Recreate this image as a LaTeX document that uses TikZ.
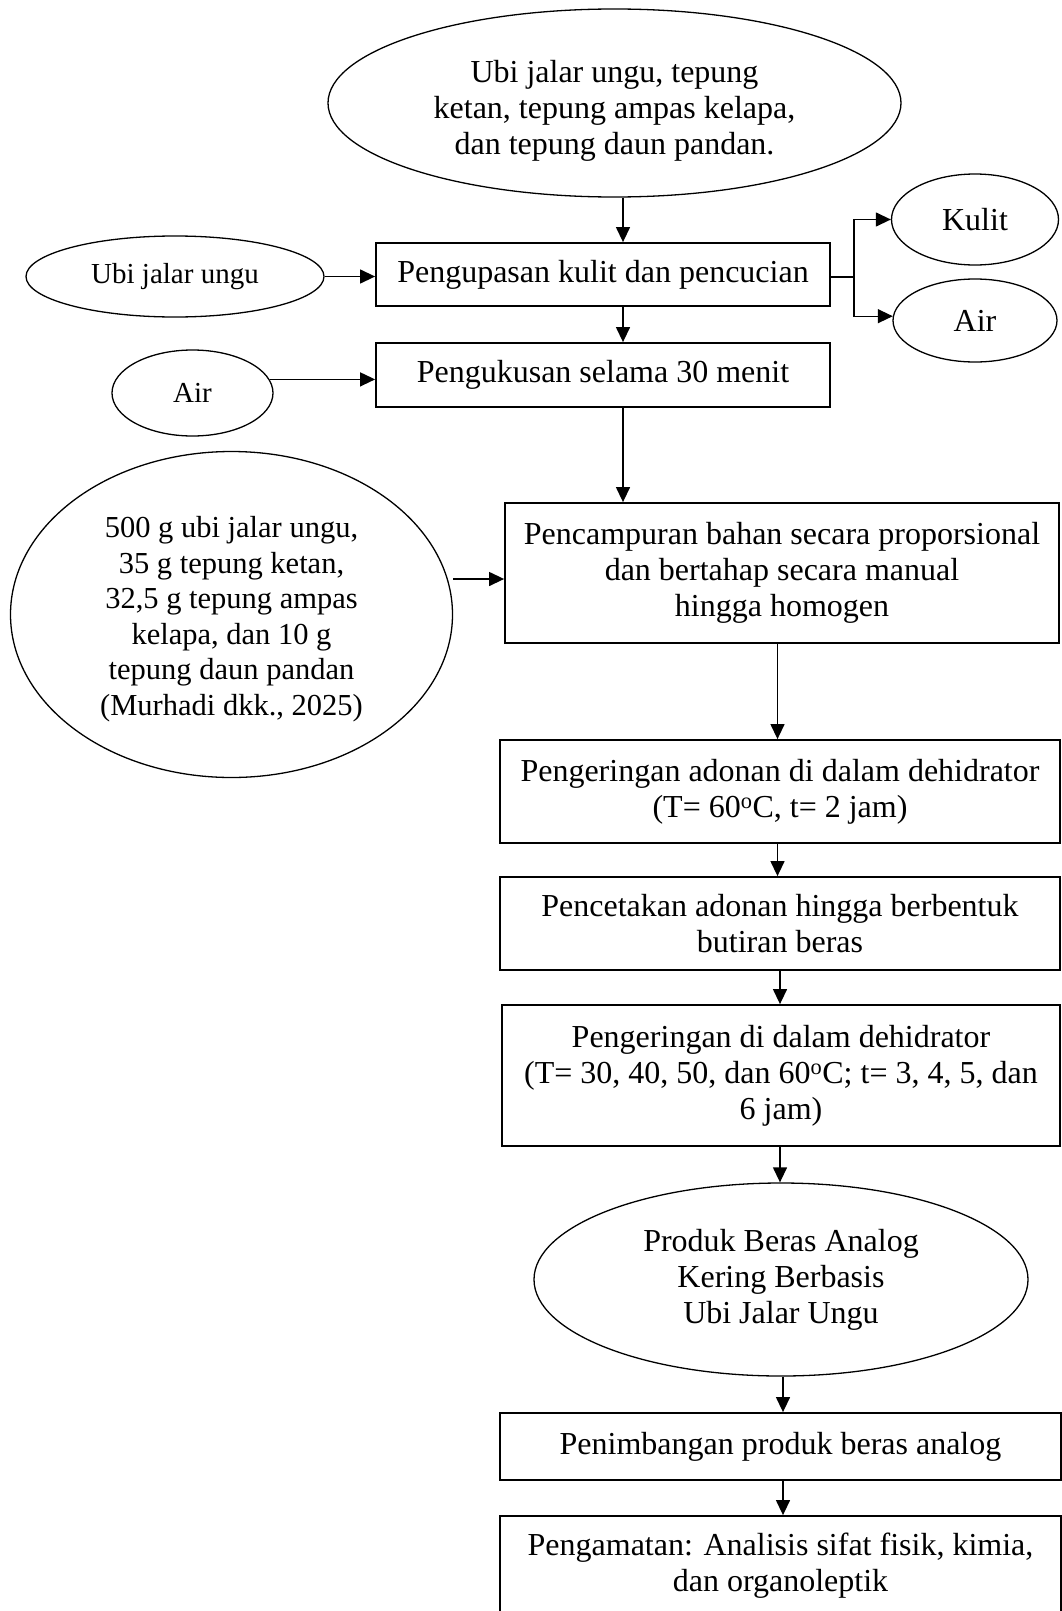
\documentclass[tikz,border=0pt]{standalone}
\usepackage{fontspec}
\setmainfont{Liberation Serif}
\usetikzlibrary{arrows.meta,shapes.geometric}
\newcommand{\bigtxt}{\fontsize{32}{36}\selectfont}
\newcommand{\midtxt}{\fontsize{30.5}{35.5}\selectfont}
\newcommand{\smltxt}{\fontsize{29}{33}\selectfont}
\begin{document}
\begin{tikzpicture}[x=1pt,y=-1pt,
  box/.style={draw,line width=1.8pt,rectangle,inner sep=0pt,align=center,font=\bigtxt},
  oval/.style={draw,line width=1.3pt,ellipse,inner sep=0pt,align=center,font=\bigtxt},
  txt/.style={inner sep=0pt,align=center,font=\bigtxt},
  arr/.style={line width=1.3pt,-{Triangle[length=15pt,width=14pt]}},
  ln/.style={line width=1.3pt}]
\useasboundingbox (0,0) rectangle (1062,1611);

\node[oval,minimum width=573pt,minimum height=188pt] (ing) at (614.5,103) {};
\node[txt] (ingtxt) at (614.5,111) {Ubi jalar ungu, tepung\\ketan, tepung ampas kelapa,\\dan tepung daun pandan.};
\node[box,minimum width=454pt,minimum height=63pt] (kupas) at (603,274.5) {Pengupasan kulit dan pencucian};
\node[oval,font=\smltxt,minimum width=298pt,minimum height=81pt] (ubi) at (175,276.5) {Ubi jalar ungu};
\node[oval,minimum width=167pt,minimum height=91pt] (kulit) at (975,219.5) {Kulit};
\node[oval,minimum width=164pt,minimum height=83pt] (airout) at (975,320.5) {Air};
\node[box,minimum width=454pt,minimum height=64pt] (kukus) at (603,375) {Pengukusan selama 30 menit};
\node[oval,font=\smltxt,minimum width=161pt,minimum height=86pt] (airin) at (192.5,393) {Air};
\node[box,minimum width=554pt,minimum height=140pt] (campur) at (782,573) {Pencampuran bahan secara proporsional\\dan bertahap secara manual\\hingga homogen};
\node[oval,minimum width=442pt,minimum height=326pt] (bahan) at (231.5,614.5) {};
\node[txt,font=\midtxt] (bahantxt) at (231.5,619) {500 g ubi jalar ungu,\\35 g tepung ketan,\\32,5 g tepung ampas\\kelapa, dan 10 g\\tepung daun pandan\\(Murhadi dkk., 2025)};
\node[box,minimum width=560pt,minimum height=103pt] (kering1) at (780,791.5) {Pengeringan adonan di dalam dehidrator\\(T= 60\textsuperscript{o}C, t= 2 jam)};
\node[box,minimum width=560pt,minimum height=93pt] (cetak) at (780,923.5) {Pencetakan adonan hingga berbentuk\\butiran beras};
\node[box,minimum width=558pt,minimum height=141pt] (kering2) at (781,1075.5) {Pengeringan di dalam dehidrator\\(T= 30, 40, 50, dan 60\textsuperscript{o}C; t= 3, 4, 5, dan\\6 jam)};
\node[oval,minimum width=494pt,minimum height=193pt] (produk) at (781,1279.5) {Produk Beras Analog\\Kering Berbasis\\Ubi Jalar Ungu};
\node[box,minimum width=561pt,minimum height=67pt] (timbang) at (780.5,1446.5) {Penimbangan produk beras analog};
\node[box,minimum width=561pt,minimum height=100pt] (amati) at (780.5,1566) {Pengamatan: Analisis sifat fisik, kimia,\\dan organoleptik};

\coordinate (xa) at (623,0);
\coordinate (xc) at (777.5,0);
\coordinate (xd) at (780,0);
\coordinate (xe) at (783,0);
\coordinate (yb) at (0,579);
\coordinate (sp) at (854,277);

\draw[arr] (ing.south -| xa) -- (kupas.north -| xa);
\draw[arr] (kupas.south -| xa) -- (kukus.north -| xa);
\draw[arr] (kukus.south -| xa) -- (campur.north -| xa);
\draw[arr] (ubi.east) -- (ubi.east -| kupas.west);
\draw[arr] (airin.10) -- (airin.10 -| kukus.west);
\draw[arr] (bahan.east |- yb) -- (campur.west |- yb);
\draw[ln] (kupas.east |- sp) -- (sp);
\draw[arr] (sp) |- (kulit.west);
\draw[arr] (sp) |- (airout.177);
\draw[arr] (campur.south -| xc) -- (kering1.north -| xc);
\draw[arr] (kering1.south -| xc) -- (cetak.north -| xc);
\draw[arr] (cetak.south -| xd) -- (kering2.north -| xd);
\draw[arr] (kering2.south -| xd) -- (produk.north -| xd);
\draw[arr] (produk.south -| xe) -- (timbang.north -| xe);
\draw[arr] (timbang.south -| xe) -- (amati.north -| xe);
\end{tikzpicture}
\end{document}
